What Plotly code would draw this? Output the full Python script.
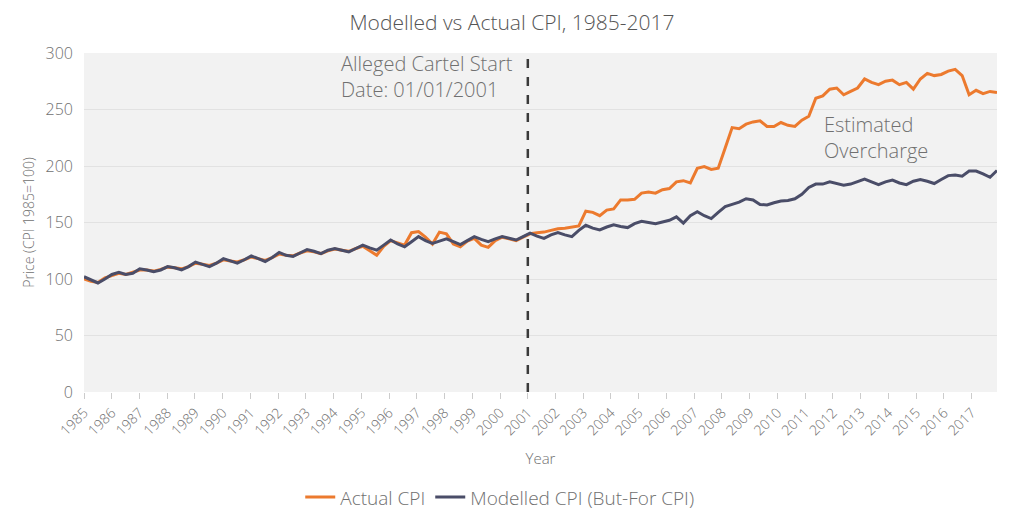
import pandas as pd
import plotly.graph_objects as go

# quarterly readings, Jan 1985 .. Dec 2017
actual_cpi = [
    100, 98, 97, 101,
    103, 105, 104, 106,
    108, 108, 107, 108.5,
    110.5, 110, 109, 111,
    114, 113, 112, 114,
    117, 116, 115, 117,
    119.5, 118, 116.5, 119,
    122, 121, 120.5, 123,
    125, 124, 122.5, 125,
    126.5, 125.5, 124.5, 127,
    129, 125, 121, 129,
    134, 132, 130, 141,
    142, 137, 131, 141.5,
    140, 131, 128.5, 133.5,
    136, 130, 128, 134,
    137, 135.5, 134, 137,
    140, 141, 141.5, 143,
    144.5, 145, 146, 147,
    160, 159, 156, 161,
    162, 170, 170, 170.5,
    176, 177, 176, 179,
    180, 186, 187, 185,
    198, 199.5, 197, 198,
    216, 234, 233, 237,
    239, 240, 235, 235,
    238.5, 236, 235, 240.5,
    244, 260, 262, 268,
    269, 263, 266, 269,
    277, 274, 272, 275,
    276, 272, 274, 268,
    277, 282, 280, 281,
    284, 285.5, 280, 263,
    267, 264, 266, 265,
]

modelled_cpi = [
    102, 99, 96.5, 100,
    104, 106, 104, 105,
    109, 108, 106.5, 108,
    111, 110, 108, 111,
    115, 113, 111, 114,
    118, 116, 114, 117,
    120.5, 118, 115.5, 119,
    123.5, 121, 120, 123,
    126, 124.5, 122.5, 125.5,
    127, 125.5, 124, 127,
    130, 127.5, 125.5, 130,
    134.5, 131, 128.5, 133,
    137.5, 134, 131.5, 133.5,
    135.5, 133, 130.5, 134,
    137.5, 135, 133, 135.5,
    137.5, 136, 134.5, 137.5,
    140.5, 138, 136, 139,
    141, 139, 137.5, 143,
    147.5, 145, 143.5, 146,
    148, 146.5, 145.5, 149,
    151, 150, 149, 150.5,
    152, 155, 149.5, 156,
    159.5, 156, 153.5, 159,
    164, 166, 168, 171,
    170, 166, 165.5, 167.5,
    169, 169.5, 171, 175,
    181, 184, 184, 186,
    184.5, 183, 184, 186.5,
    188.5, 186, 183.5, 186,
    187.5, 185, 183.5, 186.5,
    188, 186.5, 184.5, 188,
    191.5, 192, 191, 195.5,
    195.5, 193, 190, 196,
]

dates = pd.date_range("1985-01-01", "2017-12-01", periods=len(actual_cpi))
cartel_start = "2001-01-01"

grey = "#707070"
fnt = "Open Sans"

fig = go.Figure()
fig.add_trace(go.Scatter(x=dates, y=actual_cpi, mode="lines", name="Actual CPI",
                         line=dict(color="#ec7a2e", width=3)))
fig.add_trace(go.Scatter(x=dates, y=modelled_cpi, mode="lines", name="Modelled CPI (But-For CPI)",
                         line=dict(color="#4a4d68", width=3)))

fig.add_shape(type="line", x0=cartel_start, x1=cartel_start, y0=0, y1=1, yref="paper",
              line=dict(color="#3a3a3a", width=2.5, dash="dash"))

fig.add_annotation(x=0.279, xref="paper", y=278.8, xanchor="left", yanchor="middle", align="left",
                   text="Alleged Cartel Start<br>Date: 01/01/2001", showarrow=False,
                   font=dict(family=fnt, size=20, color=grey, weight=300))
fig.add_annotation(x=0.808, xref="paper", y=224.8, xanchor="left", yanchor="middle", align="left",
                   text="Estimated<br>Overcharge", showarrow=False,
                   font=dict(family=fnt, size=20, color=grey, weight=300))

# the page body adds an 8px offset, so the figure is 8px smaller than the window
fig.update_layout(
    width=1016, height=515,
    margin=dict(l=76, r=27, t=45, b=131),
    paper_bgcolor="white", plot_bgcolor="#f2f2f2",
    font=dict(family=fnt, color=grey, size=14, weight=300),
    title=dict(text="Modelled vs Actual CPI, 1985-2017", x=0.496, xanchor="center",
               xref="container", y=1 - 15 / 515, yanchor="middle",
               font=dict(family=fnt, size=21, color="#555", weight=300)),
    # container refs so the legend does not push the bottom margin
    legend=dict(orientation="h", xref="container", yref="container",
                x=0.484, xanchor="center", y=0.05, yanchor="middle",
                font=dict(family=fnt, size=19, color=grey, weight=300),
                itemwidth=30, tracegroupgap=0),
    showlegend=True,
)
fig.update_xaxes(
    range=["1985-01-01", "2017-12-01"], type="date", automargin=False,
    tick0="1985-01-01", dtick="M12", tickformat="%Y", tickangle=-45,
    ticks="outside", ticklen=6, tickcolor="#cccccc", showgrid=False,
    tickfont=dict(family=fnt, size=14, color=grey, weight=300),
    title=dict(text="Year", font=dict(family=fnt, size=15, color=grey, weight=300), standoff=15),
)
fig.update_yaxes(
    range=[0, 300], dtick=50, gridcolor="#e2e2e2", zeroline=False, automargin=False,
    ticklabelstandoff=10,
    tickfont=dict(family=fnt, size=16, color=grey, weight=300),
    title=dict(text="Price (CPI 1985=100)", font=dict(family=fnt, size=14, color=grey, weight=300),
               standoff=7),
)

fig.write_html("out.html")
